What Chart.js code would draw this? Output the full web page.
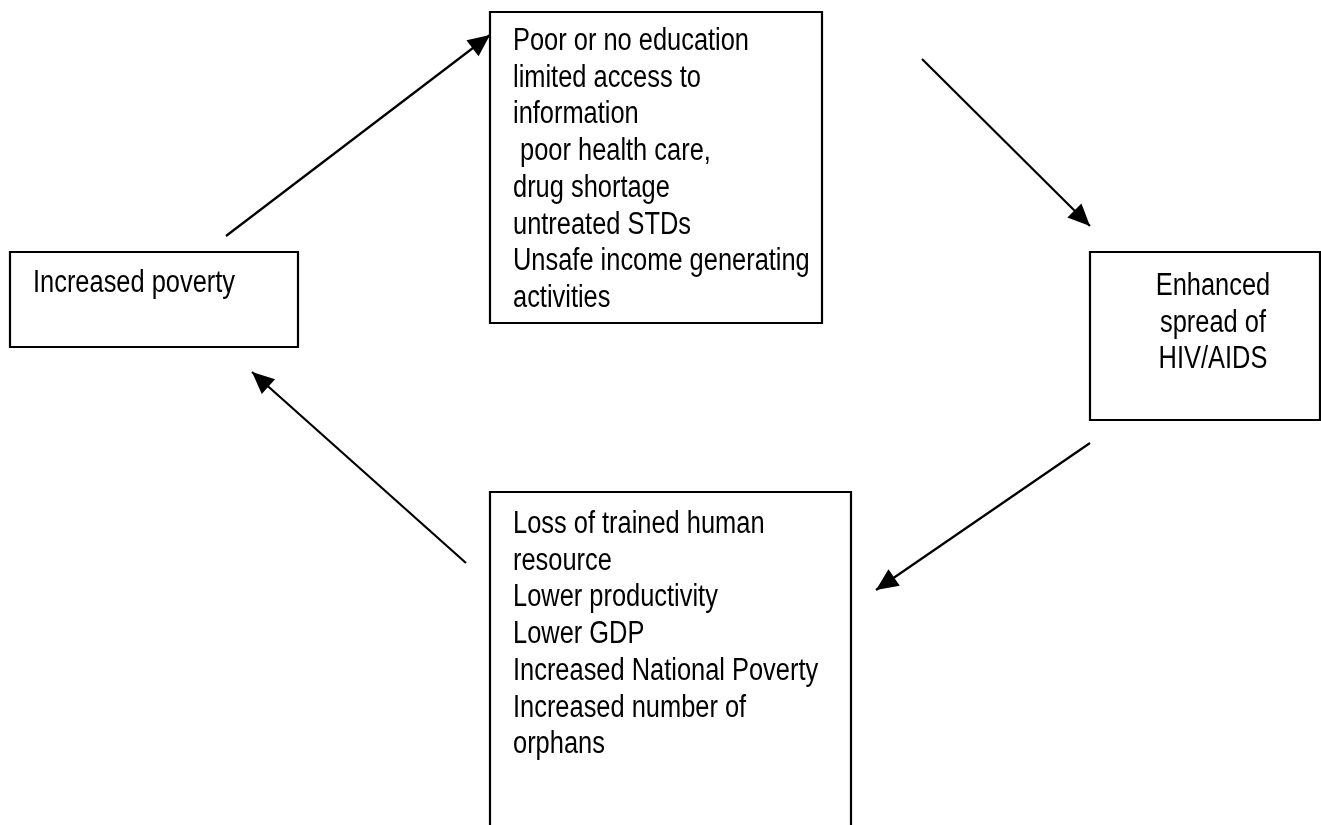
<!DOCTYPE html>
<html>
<head>
<meta charset="utf-8">
<script src="https://cdn.jsdelivr.net/npm/chart.js@4.4.0/dist/chart.umd.min.js"></script>
<style>
  html, body { margin: 0; padding: 0; background: #fff; overflow: hidden; }
  #wrap { width: 1321px; height: 825px; position: relative; }
</style>
</head>
<body>
<div id="wrap"><canvas id="cycle"></canvas></div>
<script>
// =========================
// DIAGRAM DATA (axis units, 0..1321 x 0..825, y downward)
// =========================
const boxLeft   = [10, 490, 1090, 490];
const boxTop    = [252, 12, 252, 492];
const boxRight  = [298, 822, 1320, 851];
const boxBottom = [347, 323, 420, 830];

const boxLines = [
  ["Increased poverty"],
  ["Poor or no education", "limited access to", "information", " poor health care,",
   "drug shortage", "untreated STDs", "Unsafe income generating", "activities"],
  ["Enhanced", "spread of", "HIV/AIDS"],
  ["Loss of trained human", "resource", "Lower productivity", "Lower GDP",
   "Increased National Poverty", "Increased number of", "orphans"]
];
const textX = [33, 513, 1213, 513];
const firstBaseline = [292, 50, 295, 533];
const textAlign = ["left", "left", "center", "left"];

// arrows: start -> tip
const arrowFromX = [226, 922, 1090, 466];
const arrowFromY = [236, 59, 443, 563];
const arrowToX   = [490, 1090, 876, 252];
const arrowToY   = [35, 226, 590, 372];

// Arial-Narrow look: Liberation Sans squeezed horizontally
const FONT = '31px "Liberation Sans", Arial, sans-serif';
const NARROW = 0.82;
const LINE_GAP = 36.7;

// Datasets
const datasets = [];

boxLeft.forEach((l, i) => {
  datasets.push({
    label: "box" + i,
    data: [
      { x: l, y: boxTop[i] },
      { x: boxRight[i], y: boxTop[i] },
      { x: boxRight[i], y: boxBottom[i] },
      { x: l, y: boxBottom[i] },
      { x: l, y: boxTop[i] }
    ],
    showLine: true,
    borderColor: "#000",
    borderWidth: 2.2,
    borderCapStyle: "square",
    borderJoinStyle: "miter",
    pointRadius: 0,
    tension: 0,
    fill: false
  });
});

arrowFromX.forEach((x, i) => {
  datasets.push({
    label: "arrow" + i,
    data: [{ x: x, y: arrowFromY[i] }, { x: arrowToX[i], y: arrowToY[i] }],
    showLine: true,
    borderColor: "#000",
    borderWidth: 2.2,
    pointRadius: 0,
    tension: 0,
    fill: false
  });
});

// Arrowheads + box text
const diagramPlugin = {
  id: "diagram",
  afterDatasetsDraw(chart) {
    const ctx = chart.ctx;
    const xs = chart.scales.x;
    const ys = chart.scales.y;

    ctx.save();
    ctx.fillStyle = "#000";
    arrowFromX.forEach((x, i) => {
      const x0 = xs.getPixelForValue(x);
      const y0 = ys.getPixelForValue(arrowFromY[i]);
      const x1 = xs.getPixelForValue(arrowToX[i]);
      const y1 = ys.getPixelForValue(arrowToY[i]);
      const a = Math.atan2(y1 - y0, x1 - x0);
      const len = 22, half = 10;
      ctx.beginPath();
      ctx.moveTo(x1, y1);
      ctx.lineTo(x1 - len * Math.cos(a) + half * Math.sin(a), y1 - len * Math.sin(a) - half * Math.cos(a));
      ctx.lineTo(x1 - len * Math.cos(a) - half * Math.sin(a), y1 - len * Math.sin(a) + half * Math.cos(a));
      ctx.closePath();
      ctx.fill();
    });

    ctx.font = FONT;
    ctx.textBaseline = "alphabetic";
    boxLines.forEach((lines, i) => {
      ctx.textAlign = textAlign[i];
      lines.forEach((t, j) => {
        ctx.save();
        ctx.translate(xs.getPixelForValue(textX[i]), ys.getPixelForValue(firstBaseline[i] + j * LINE_GAP));
        ctx.scale(NARROW, 1);
        ctx.fillText(t, 0, 0);
        ctx.restore();
      });
    });
    ctx.restore();
  }
};

new Chart(document.getElementById("cycle"), {
  type: "scatter",
  data: { datasets },
  options: {
    responsive: true,
    maintainAspectRatio: false,
    animation: false,
    layout: { padding: 0 },
    scales: {
      x: { type: "linear", min: 0, max: 1321, display: false },
      y: { type: "linear", min: 0, max: 825, reverse: true, display: false }
    },
    plugins: {
      legend: { display: false },
      tooltip: { enabled: false }
    }
  },
  plugins: [diagramPlugin]
});
</script>
</body>
</html>
